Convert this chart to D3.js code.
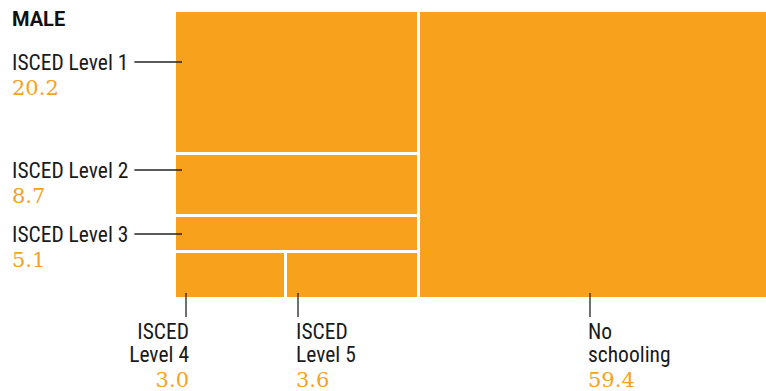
<!DOCTYPE html>
<html>
<head>
<meta charset="utf-8">
<script src="https://cdn.jsdelivr.net/npm/d3@7"></script>
<style>
  body { margin: 0; background: #fff; }
  svg { display: block; }
  .lbl { font-family: 'Roboto Condensed', Roboto, sans-serif; font-size: 21.5px; fill: #1a1a1a; }
  .val { font-family: 'DejaVu Serif', serif; font-size: 21px; fill: #f7a11c; }
  .title { font-family: Roboto, sans-serif; font-weight: 700; font-size: 20px; fill: #111; }
</style>
</head>
<body>
<div id="chart"></div>
<script>
const width = 766,
    height = 391;

// data
const categories = ['ISCED Level 1', 'ISCED Level 2', 'ISCED Level 3', 'ISCED Level 4', 'ISCED Level 5', 'No schooling'];
const values = [20.2, 8.7, 5.1, 3.0, 3.6, 59.4];
const valueLabels = ['20.2', '8.7', '5.1', '3.0', '3.6', '59.4'];

const orange = '#f7a11c';
// the map runs a little past the right edge, as in the original
const mapLeft = 176, mapTop = 12, mapWidth = 597, mapHeight = 285;

let svg = d3.select('#chart').append('svg')
    .attr('width', width)
    .attr('height', height);

svg.append('text')
    .attr('class', 'title')
    .attr('x', 12)
    .attr('y', 26)
    .text('MALE');

// nesting: [[L1, L2, L3, [L4, L5]], No schooling]
let leaf = i => ({name: categories[i], value: values[i], label: valueLabels[i], idx: i});
let tree = {
    name: 'root',
    children: [
        {name: 'schooled', children: [leaf(0), leaf(1), leaf(2), {name: 'upper', children: [leaf(3), leaf(4)]}]},
        leaf(5)
    ]
};

let root = d3.hierarchy(tree).sum(d => d.value || 0);

d3.treemap()
    .tile(d3.treemapSliceDice)
    .size([mapWidth, mapHeight])
    .paddingInner(3)
    .round(true)(root);

let g = svg.append('g')
    .attr('transform', 'translate(' + mapLeft + ',' + mapTop + ')');

let leaves = root.leaves();

g.selectAll('rect')
    .data(leaves)
    .enter().append('rect')
    .attr('x', d => d.x0)
    .attr('y', d => d.y0)
    .attr('width', d => d.x1 - d.x0)
    .attr('height', d => d.y1 - d.y0)
    .style('fill', orange);

// annotations
const leftOffset = {0: 50, 1: 15, 2: 17};
const bottomOffset = {3: 10, 4: 11, 5: 170};

let ann = svg.append('g');

leaves.forEach(d => {
    let i = d.data.idx;
    if (i in leftOffset) {
        let y = mapTop + d.y0 + leftOffset[i];
        let t = ann.append('text')
            .attr('class', 'lbl')
            .attr('x', 12)
            .attr('y', y + 7.5)
            .text(d.data.name);
        let tw = t.node().getComputedTextLength();
        ann.append('line')
            .attr('x1', 12 + tw + 6)
            .attr('x2', mapLeft + d.x0 + 6)
            .attr('y1', y).attr('y2', y)
            .style('stroke', '#222')
            .style('stroke-width', 1.3);
        ann.append('text')
            .attr('class', 'val')
            .attr('x', 12)
            .attr('y', y + 33)
            .text(d.data.label);
    } else {
        let x = mapLeft + d.x0 + bottomOffset[i];
        let yb = mapTop + d.y1;
        ann.append('line')
            .attr('x1', x).attr('x2', x)
            .attr('y1', yb - 4)
            .attr('y2', yb + 20)
            .style('stroke', '#222')
            .style('stroke-width', 1.3);
        let anchor = i === 3 ? 'end' : 'start';
        let tx = i === 3 ? x + 3 : x - 2;
        let lines = i === 5 ? ['No', 'schooling'] : ['ISCED', d.data.name.replace('ISCED ', '')];
        lines.forEach((s, k) => {
            ann.append('text')
                .attr('class', 'lbl')
                .attr('x', tx)
                .attr('y', yb + 42 + k * 23)
                .style('text-anchor', anchor)
                .text(s);
        });
        ann.append('text')
            .attr('class', 'val')
            .attr('x', tx)
            .attr('y', yb + 90)
            .style('text-anchor', anchor)
            .text(d.data.label);
    }
});
</script>
</body>
</html>
